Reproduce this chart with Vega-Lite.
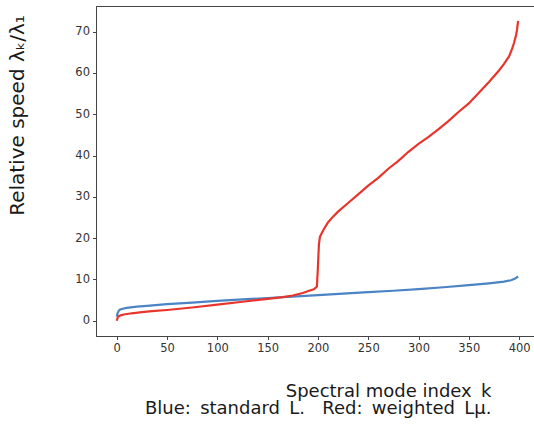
{
  "$schema": "https://vega.github.io/schema/vega-lite/v6.json",
  "autosize": {"type": "none"},
  "padding": {"left": 96, "top": 6, "right": 0, "bottom": 89},
  "width": 438,
  "height": 330,
  "background": "white",
  "config": {
    "view": {"stroke": "#444", "strokeWidth": 1},
    "axis": {
      "domainColor": "#444",
      "tickColor": "#444",
      "tickSize": 3.5,
      "labelFont": "DejaVu Sans",
      "labelFontSize": 11.5,
      "labelColor": "#333",
      "labelPadding": 3,
      "titleFont": "DejaVu Sans",
      "titleFontSize": 18,
      "titleFontWeight": "normal",
      "titleColor": "#1a1a1a",
      "grid": false
    }
  },
  "data": {
    "values": [
      {"k": 0, "v": 1.0, "series": "standard"},
      {"k": 1, "v": 1.9, "series": "standard"},
      {"k": 2, "v": 2.4, "series": "standard"},
      {"k": 3, "v": 2.65, "series": "standard"},
      {"k": 5, "v": 2.85, "series": "standard"},
      {"k": 10, "v": 3.1, "series": "standard"},
      {"k": 20, "v": 3.4, "series": "standard"},
      {"k": 30, "v": 3.6, "series": "standard"},
      {"k": 50, "v": 4.0, "series": "standard"},
      {"k": 75, "v": 4.4, "series": "standard"},
      {"k": 100, "v": 4.8, "series": "standard"},
      {"k": 125, "v": 5.15, "series": "standard"},
      {"k": 150, "v": 5.5, "series": "standard"},
      {"k": 175, "v": 5.85, "series": "standard"},
      {"k": 200, "v": 6.2, "series": "standard"},
      {"k": 225, "v": 6.55, "series": "standard"},
      {"k": 250, "v": 6.9, "series": "standard"},
      {"k": 275, "v": 7.25, "series": "standard"},
      {"k": 300, "v": 7.65, "series": "standard"},
      {"k": 325, "v": 8.1, "series": "standard"},
      {"k": 350, "v": 8.6, "series": "standard"},
      {"k": 370, "v": 9.05, "series": "standard"},
      {"k": 385, "v": 9.45, "series": "standard"},
      {"k": 392, "v": 9.8, "series": "standard"},
      {"k": 396, "v": 10.2, "series": "standard"},
      {"k": 399, "v": 10.7, "series": "standard"},
      {"k": 0, "v": 0.0, "series": "weighted"},
      {"k": 1, "v": 0.8, "series": "weighted"},
      {"k": 2, "v": 1.1, "series": "weighted"},
      {"k": 4, "v": 1.3, "series": "weighted"},
      {"k": 7, "v": 1.5, "series": "weighted"},
      {"k": 15, "v": 1.8, "series": "weighted"},
      {"k": 25, "v": 2.1, "series": "weighted"},
      {"k": 35, "v": 2.3, "series": "weighted"},
      {"k": 50, "v": 2.6, "series": "weighted"},
      {"k": 75, "v": 3.2, "series": "weighted"},
      {"k": 100, "v": 3.9, "series": "weighted"},
      {"k": 125, "v": 4.6, "series": "weighted"},
      {"k": 150, "v": 5.3, "series": "weighted"},
      {"k": 165, "v": 5.7, "series": "weighted"},
      {"k": 175, "v": 6.1, "series": "weighted"},
      {"k": 185, "v": 6.7, "series": "weighted"},
      {"k": 192, "v": 7.3, "series": "weighted"},
      {"k": 196, "v": 7.6, "series": "weighted"},
      {"k": 199, "v": 8.3, "series": "weighted"},
      {"k": 200, "v": 13.0, "series": "weighted"},
      {"k": 201, "v": 18.5, "series": "weighted"},
      {"k": 202, "v": 20.3, "series": "weighted"},
      {"k": 204, "v": 21.3, "series": "weighted"},
      {"k": 206, "v": 22.2, "series": "weighted"},
      {"k": 210, "v": 23.8, "series": "weighted"},
      {"k": 215, "v": 25.2, "series": "weighted"},
      {"k": 220, "v": 26.4, "series": "weighted"},
      {"k": 230, "v": 28.5, "series": "weighted"},
      {"k": 240, "v": 30.6, "series": "weighted"},
      {"k": 250, "v": 32.7, "series": "weighted"},
      {"k": 260, "v": 34.6, "series": "weighted"},
      {"k": 270, "v": 36.8, "series": "weighted"},
      {"k": 280, "v": 38.7, "series": "weighted"},
      {"k": 290, "v": 40.9, "series": "weighted"},
      {"k": 300, "v": 42.8, "series": "weighted"},
      {"k": 310, "v": 44.5, "series": "weighted"},
      {"k": 320, "v": 46.4, "series": "weighted"},
      {"k": 330, "v": 48.4, "series": "weighted"},
      {"k": 340, "v": 50.6, "series": "weighted"},
      {"k": 350, "v": 52.6, "series": "weighted"},
      {"k": 360, "v": 55.2, "series": "weighted"},
      {"k": 370, "v": 57.8, "series": "weighted"},
      {"k": 380, "v": 60.6, "series": "weighted"},
      {"k": 385, "v": 62.2, "series": "weighted"},
      {"k": 390, "v": 64.0, "series": "weighted"},
      {"k": 393, "v": 65.8, "series": "weighted"},
      {"k": 395, "v": 67.3, "series": "weighted"},
      {"k": 397, "v": 69.2, "series": "weighted"},
      {"k": 398, "v": 70.6, "series": "weighted"},
      {"k": 399, "v": 72.6, "series": "weighted"}
    ]
  },
  "mark": {"type": "line", "strokeWidth": 2.2, "interpolate": "linear", "clip": true},
  "encoding": {
    "x": {
      "field": "k",
      "type": "quantitative",
      "scale": {"domain": [-20.6, 414.8], "nice": false, "zero": false},
      "axis": {
        "values": [0, 50, 100, 150, 200, 250, 300, 350, 400],
        "title": ["Spectral mode index\u2009 k", "Blue:\u2009 standard\u2009 L.\u00a0\u00a0 Red:\u2009 weighted\u2009 Lμ."],
        "titleAlign": "right",
        "titleAnchor": null,
        "titleX": 395,
        "titleY": 60.5,
        "titleBaseline": "alphabetic",
        "titleLineHeight": 17
      }
    },
    "y": {
      "field": "v",
      "type": "quantitative",
      "scale": {"domain": [-3.7, 76.2], "nice": false, "zero": false},
      "axis": {
        "values": [0, 10, 20, 30, 40, 50, 60, 70],
        "title": "Relative speed λₖ/λ₁",
        "titleFontSize": 20,
        "titleAngle": -90,
        "titleAlign": "center",
        "titleBaseline": "alphabetic",
        "titleX": -72.5,
        "titleY": 109
      }
    },
    "color": {
      "field": "series",
      "type": "nominal",
      "scale": {"domain": ["standard", "weighted"], "range": ["#4a84c4", "#e8352b"]},
      "legend": null
    }
  }
}
